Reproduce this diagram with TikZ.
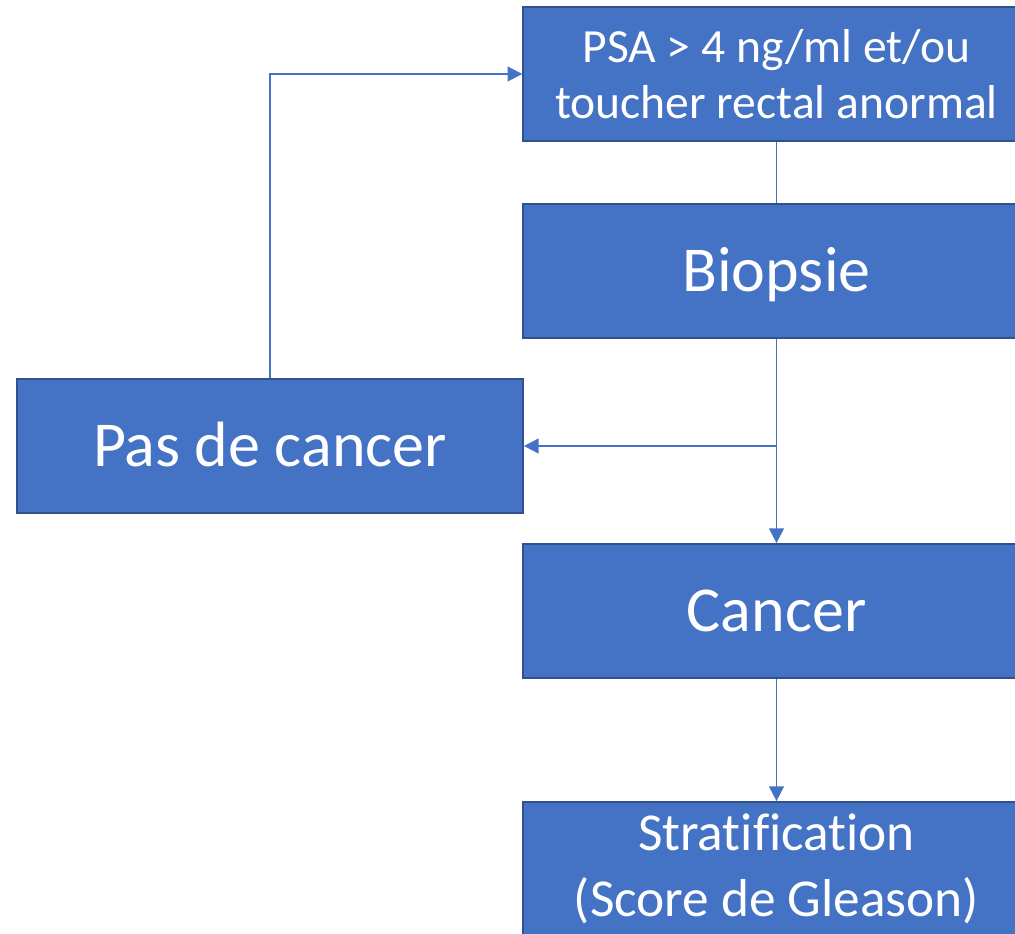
\documentclass[tikz,border=0pt]{standalone}
\usepackage{fontspec}
\setmainfont{Carlito}[Ligatures=NoCommon]
\usetikzlibrary{arrows.meta}
\definecolor{azul}{HTML}{4472C4}
\definecolor{borde}{HTML}{2F528F}
\tikzset{
    caja/.style={draw=borde,line width=1.3pt,fill=azul,text=white,align=center,
        minimum width=380pt,minimum height=100.5pt,inner sep=0pt},
    grande/.style={caja,font=\fontsize{48}{58}\selectfont,text height=31pt,text depth=0pt},
    flecha/.style={azul,line width=1.4pt,-{Triangle[length=11pt,width=11pt]}},
    linea/.style={azul,line width=1.4pt}
}
\begin{document}
\begin{tikzpicture}[x=0.75pt,y=-0.75pt]

    \def\colx{776.5}

    \useasboundingbox (0,0) rectangle (1015,934);

    %Cajas
    \node[caja,font=\fontsize{35.7}{42}\selectfont] (psa) at (\colx,74) {PSA > 4 ng/ml et/ou\\ toucher rectal anormal};
    \node[grande] (bio) at (\colx,271) {Biopsie};
    \node[grande,minimum width=379.5pt] (pas) at (270,446) {Pas de cancer};
    \node[grande] (can) at (\colx,611) {Cancer};
    \node[caja,font=\fontsize{40}{49}\selectfont] (strat) at (\colx,869) {Stratification\\ (Score de Gleason)};

    %Conexiones
    \coordinate (rama) at (bio |- pas);
    \coordinate (codo) at (pas |- psa);
    \draw[linea] (psa) -- (bio);
    \draw[flecha] (bio) -- (can);
    \draw[flecha] (rama) -- (pas.east);
    \draw[flecha] (pas.north) -- (codo) -- (psa.west);
    \draw[flecha] (can) -- (strat);

\end{tikzpicture}
\end{document}
